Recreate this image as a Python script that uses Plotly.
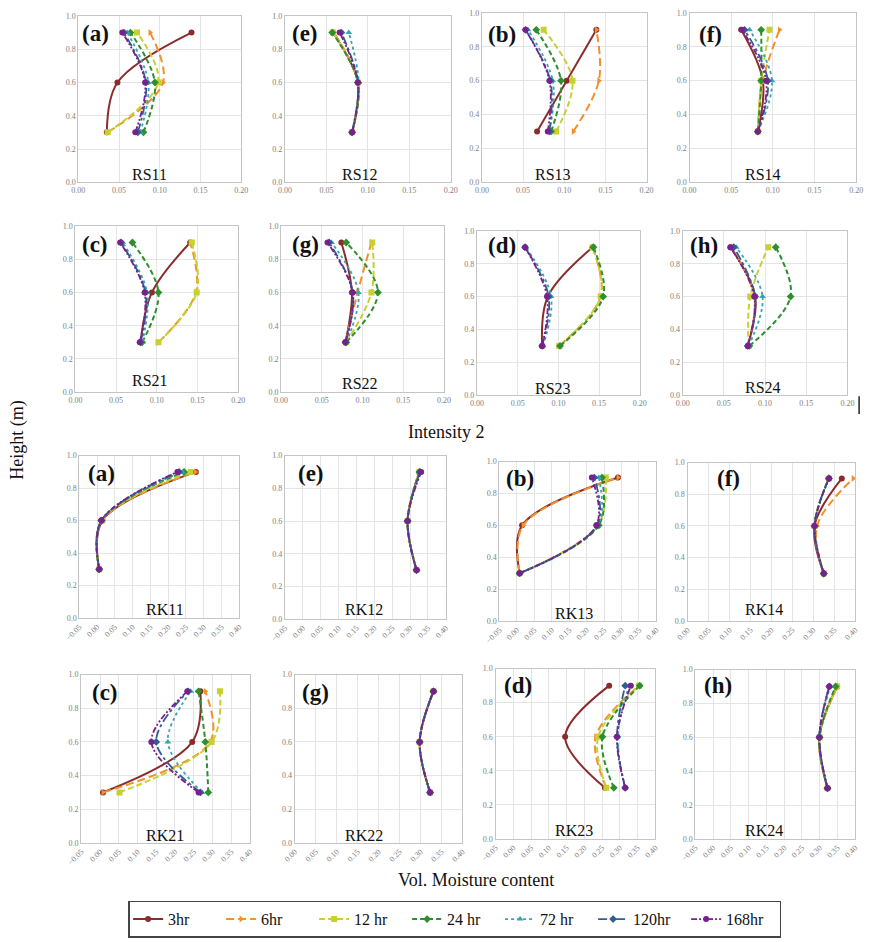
import plotly.graph_objects as go

# Soil moisture profiles: volumetric moisture at three depths, seven elapsed times
HEIGHTS = [0.3, 0.6, 0.9]
SERIES = ["3hr", "6hr", "12 hr", "24 hr", "72 hr", "120hr", "168hr"]

# Each panel: one row per series (3hr ... 168hr), values at heights 0.3, 0.6, 0.9
RS11 = [[0.035, 0.048, 0.139], [0.036, 0.104, 0.088], [0.036, 0.098, 0.072],
        [0.080, 0.094, 0.064], [0.076, 0.086, 0.060], [0.073, 0.083, 0.056],
        [0.070, 0.082, 0.054]]
RS12 = [[0.081, 0.088, 0.058], [0.081, 0.088, 0.059], [0.081, 0.088, 0.058],
        [0.081, 0.088, 0.057], [0.081, 0.089, 0.077], [0.081, 0.088, 0.068],
        [0.081, 0.088, 0.066]]
RS13 = [[0.067, 0.103, 0.139], [0.111, 0.142, 0.139], [0.090, 0.110, 0.075],
        [0.084, 0.096, 0.066], [0.082, 0.086, 0.056], [0.082, 0.083, 0.053],
        [0.080, 0.082, 0.053]]
RS14 = [[0.082, 0.088, 0.062], [0.082, 0.088, 0.108], [0.082, 0.086, 0.096],
        [0.082, 0.086, 0.086], [0.082, 0.099, 0.072], [0.082, 0.094, 0.066],
        [0.082, 0.092, 0.063]]
RS21 = [[0.080, 0.094, 0.141], [0.102, 0.148, 0.141], [0.102, 0.149, 0.143],
        [0.082, 0.102, 0.070], [0.082, 0.088, 0.058], [0.080, 0.086, 0.056],
        [0.079, 0.085, 0.055]]
RS22 = [[0.079, 0.087, 0.074], [0.079, 0.094, 0.111], [0.080, 0.111, 0.112],
        [0.080, 0.119, 0.080], [0.080, 0.095, 0.062], [0.079, 0.088, 0.059],
        [0.079, 0.088, 0.057]]
RS23 = [[0.080, 0.087, 0.142], [0.101, 0.152, 0.142], [0.101, 0.152, 0.142],
        [0.102, 0.155, 0.143], [0.081, 0.091, 0.060], [0.080, 0.088, 0.059],
        [0.080, 0.086, 0.059]]
RS24 = [[0.079, 0.088, 0.058], [0.079, 0.087, 0.059], [0.080, 0.082, 0.104],
        [0.081, 0.131, 0.113], [0.080, 0.097, 0.065], [0.079, 0.088, 0.062],
        [0.079, 0.087, 0.058]]
RK11 = [[0.006, 0.015, 0.278], [0.006, 0.014, 0.277], [0.006, 0.013, 0.263],
        [0.006, 0.012, 0.245], [0.006, 0.012, 0.240], [0.006, 0.012, 0.231],
        [0.006, 0.012, 0.226]]
RK12 = [[0.318, 0.293, 0.326], [0.318, 0.293, 0.327], [0.318, 0.293, 0.326],
        [0.318, 0.293, 0.326], [0.318, 0.293, 0.327], [0.318, 0.293, 0.328],
        [0.318, 0.293, 0.331]]
RK13 = [[0.008, 0.015, 0.290], [0.008, 0.018, 0.290], [0.008, 0.232, 0.255],
        [0.008, 0.235, 0.244], [0.008, 0.232, 0.235], [0.008, 0.230, 0.222],
        [0.008, 0.228, 0.215]]
RK14 = [[0.325, 0.303, 0.368], [0.325, 0.309, 0.395], [0.325, 0.303, 0.337],
        [0.325, 0.303, 0.337], [0.325, 0.303, 0.337], [0.325, 0.303, 0.337],
        [0.325, 0.303, 0.338]]
RK21 = [[0.008, 0.246, 0.268], [0.008, 0.294, 0.281], [0.052, 0.298, 0.320],
        [0.289, 0.281, 0.263], [0.272, 0.181, 0.242], [0.268, 0.150, 0.235],
        [0.263, 0.137, 0.233]]
RK22 = [[0.323, 0.298, 0.331], [0.323, 0.298, 0.331], [0.323, 0.298, 0.331],
        [0.323, 0.298, 0.331], [0.323, 0.298, 0.331], [0.323, 0.298, 0.331],
        [0.323, 0.298, 0.331]]
RK23 = [[0.258, 0.146, 0.270], [0.262, 0.232, 0.354], [0.262, 0.239, 0.354],
        [0.283, 0.251, 0.356], [0.315, 0.294, 0.326], [0.315, 0.292, 0.315],
        [0.315, 0.292, 0.331]]
RK24 = [[0.322, 0.299, 0.349], [0.322, 0.299, 0.350], [0.322, 0.300, 0.349],
        [0.322, 0.300, 0.345], [0.322, 0.299, 0.330], [0.322, 0.299, 0.327],
        [0.322, 0.299, 0.327]]

PANEL_NAMES = ["RS11", "RS12", "RS13", "RS14", "RS21", "RS22", "RS23", "RS24",
               "RK11", "RK12", "RK13", "RK14", "RK21", "RK22", "RK23", "RK24"]
PANEL_DATA = [RS11, RS12, RS13, RS14, RS21, RS22, RS23, RS24,
              RK11, RK12, RK13, RK14, RK21, RK22, RK23, RK24]
PANEL_LETTERS = ["(a)", "(e)", "(b)", "(f)", "(c)", "(g)", "(d)", "(h)",
                 "(a)", "(e)", "(b)", "(f)", "(c)", "(g)", "(d)", "(h)"]
X_RANGES = [[0, 0.20]] * 8 + [[-0.05, 0.40], [-0.05, 0.40], [-0.05, 0.40], [0, 0.40],
                              [-0.05, 0.40], [0, 0.40], [-0.05, 0.40], [-0.05, 0.40]]

# ---- styling -------------------------------------------------------------
W, H = 870, 942
COLORS = ["#8b2c2c", "#f0922b", "#c6d030", "#2e8f2e", "#3aa3ad", "#2f5f92", "#7a1f8e"]
DASHES = ["solid", "8px,4px", "6px,3px", "5px,3px", "dot", "dashdot", "6px,2px,2px,2px,2px,2px"]
SYMBOLS = ["circle", "triangle-right", "square", "diamond", "triangle-up", "diamond", "circle"]
SERIF = "Liberation Serif"
TICK_COLOR = "#808080"

# plot-area boxes in pixels: left, right, top, bottom
BOXES = [
    (65, 232, 12, 180), (277, 447, 12, 180), (479, 648, 9, 180), (692, 863, 9, 180),
    (62, 229, 224, 392), (273, 440, 224, 392), (474, 641, 229, 395), (685, 854, 229, 395),
    (66, 230, 456, 620), (277, 442, 456, 621), (497, 658, 462, 623), (690, 862, 463, 623),
    (68, 241, 677, 847), (287, 459, 677, 847), (493, 657, 671, 843), (698, 862, 672, 843),
]
# panel-name label centres and letter positions (pixels)
NAME_POS = [(138, 172), (354, 172), (552, 172), (767, 172),
            (139, 380), (354, 383), (552, 388), (767, 387),
            (154, 611), (358, 611), (573, 615), (768, 611),
            (154, 840), (358, 840), (573, 834), (768, 834)]
LETTER_POS = [(67, 30), (282, 30), (483, 31), (700, 31),
              (67, 243), (282, 243), (483, 244), (690, 244),
              (73, 474), (288, 474), (502, 479), (718, 479),
              (77, 695), (292, 695), (500, 688), (705, 688)]


def px(x, y):
    return x / W, 1 - y / H


fig = go.Figure()
layout = dict(
    width=W, height=H, margin=dict(l=0, r=0, t=0, b=0),
    paper_bgcolor="white", plot_bgcolor="white",
    font=dict(family=SERIF, color="#111"),
    showlegend=True,
)
annotations = []

for i, (name, data) in enumerate(zip(PANEL_NAMES, PANEL_DATA)):
    k = "" if i == 0 else str(i + 1)
    l, r, t, b = BOXES[i]
    x0, y1 = px(l, t)
    x1, y0 = px(r, b)
    rk = name.startswith("RK")
    layout["xaxis" + k] = dict(
        domain=[x0, x1], anchor="y" + k, range=X_RANGES[i], dtick=0.05,
        tickformat=".2f", tickangle=-45 if rk else 0,
        tickfont=dict(family=SERIF, size=8, color=TICK_COLOR),
        showgrid=True, gridcolor="#e4e4e4", gridwidth=1,
        showline=True, linecolor="#c4c4c4", linewidth=1.2, mirror=True,
        zeroline=False, ticks="", fixedrange=True,
    )
    layout["yaxis" + k] = dict(
        domain=[y0, y1], anchor="x" + k, range=[0, 1.0], dtick=0.2,
        tickformat=".1f",
        tickfont=dict(family=SERIF, size=8, color=TICK_COLOR),
        showgrid=True, gridcolor="#e4e4e4", gridwidth=1,
        showline=True, linecolor="#c4c4c4", linewidth=1.2, mirror=True,
        zeroline=False, ticks="", fixedrange=True,
    )
    for j, vals in enumerate(data):
        fig.add_trace(go.Scatter(
            x=vals, y=HEIGHTS, xaxis="x" + k, yaxis="y" + k,
            mode="lines+markers", name=SERIES[j], legendgroup=SERIES[j],
            showlegend=(i == 0),
            line=dict(color=COLORS[j], width=2 if j < 4 else 1.8, dash=DASHES[j],
                      shape="spline", smoothing=1.0),
            marker=dict(color=COLORS[j], size=6, symbol=SYMBOLS[j]),
        ))
    nx, ny = px(*NAME_POS[i])
    annotations.append(dict(x=nx, y=ny, xref="paper", yref="paper", text=name,
                            showarrow=False, font=dict(family=SERIF, size=16, color="#111"),
                            xanchor="center", yanchor="middle"))
    lx, ly = px(*LETTER_POS[i])
    annotations.append(dict(x=lx, y=ly, xref="paper", yref="paper",
                            text="<b>" + PANEL_LETTERS[i] + "</b>",
                            showarrow=False, font=dict(family=SERIF, size=23, color="#111"),
                            xanchor="left", yanchor="middle"))

# shared axis titles
for text, (x, y), angle in [("Height (m)", (3, 440), -90),
                            ("Intensity 2", (443, 432), 0),
                            ("Vol. Moisture content", (473, 884), 0)]:
    ax, ay = px(x, y)
    annotations.append(dict(x=ax, y=ay, xref="paper", yref="paper", text=text,
                            showarrow=False, textangle=angle,
                            font=dict(family=SERIF, size=18, color="#111"),
                            xanchor="center", yanchor="middle"))

layout["annotations"] = annotations
layout["shapes"] = [dict(type="line", xref="paper", yref="paper",
                         x0=866 / W, x1=866 / W, y0=1 - 396 / H, y1=1 - 414 / H,
                         line=dict(color="#222", width=1.5))]
layout["legend"] = dict(
    orientation="h", x=451 / W, xanchor="center", y=1 - 924 / H, yanchor="middle",
    bordercolor="#444", borderwidth=1.5, bgcolor="white",
    font=dict(family=SERIF, size=16, color="#111"),
    itemwidth=30, entrywidth=48, entrywidthmode="pixels",
)
fig.update_layout(**layout)
fig.write_html("out.html")
